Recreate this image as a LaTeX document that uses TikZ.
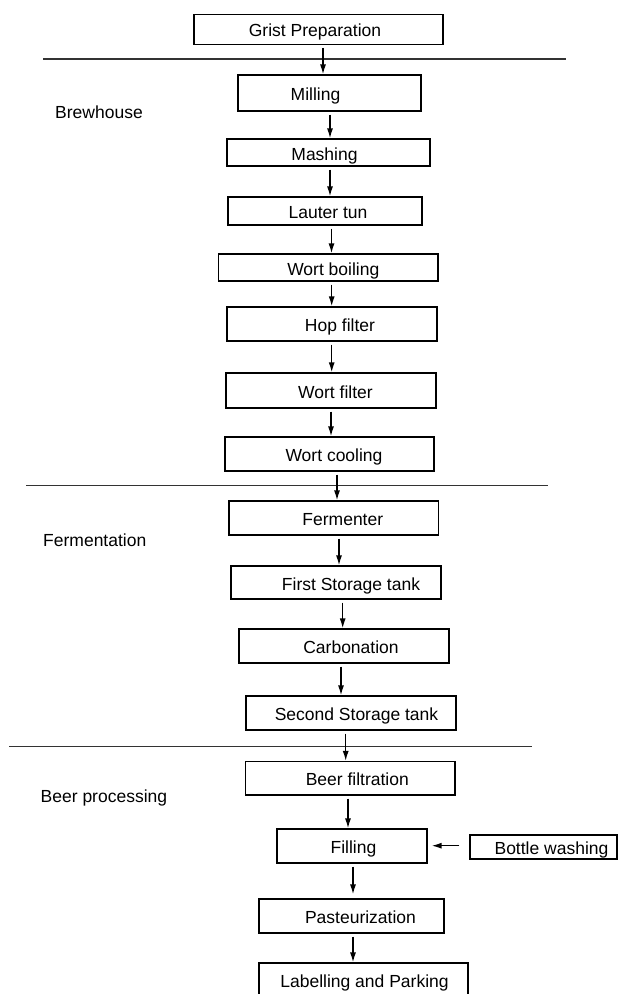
\documentclass[tikz,border=0pt]{standalone}
\usepackage{fontspec}
\setmainfont{Liberation Sans}
\usetikzlibrary{arrows.meta,calc}

\tikzset{
  stage/.style={draw, line width=1.2pt, inner sep=0pt, text height=15pt, text depth=0pt,
    font=\fontsize{17.5}{20}\selectfont},
  section/.style={anchor=base west, inner sep=0pt, font=\fontsize{17.5}{20}\selectfont},
  flow/.style={line width=1.4pt, shorten <=3pt, -{Latex[length=10pt,width=6pt]}},
  divider/.style={line width=1.1pt, black!80}
}

\begin{document}
\begin{tikzpicture}[x=1pt,y=-1pt]
	    \useasboundingbox (0,0) rectangle (618,994);
	    \clip (0,0) rectangle (618,994);
	    % process steps
	    \node[stage, minimum width=249pt, minimum height=30pt] (grist) at (318.5,29.3) {\hspace*{-7pt}Grist Preparation};
	    \node[stage, minimum width=183pt, minimum height=36pt] (mill) at (329.5,93) {\hspace*{-28pt}Milling};
	    \node[stage, minimum width=203pt, minimum height=27pt] (mash) at (328.5,152.5) {\hspace*{-8pt}Mashing};
	    \node[stage, minimum width=194pt, minimum height=28pt] (lauter) at (325,211) {\hspace*{6pt}Lauter tun};
	    \node[stage, minimum width=219.5pt, minimum height=27pt] (boil) at (328.3,267.5) {\hspace*{10pt}Wort boiling};
	    \node[stage, minimum width=210pt, minimum height=34pt] (hop) at (332,324) {\hspace*{16pt}Hop filter};
	    \node[stage, minimum width=210pt, minimum height=35pt] (wfilt) at (331,390.5) {\hspace*{9pt}Wort filter};
	    \node[stage, minimum width=209pt, minimum height=34pt] (cool) at (329.5,454) {\hspace*{9pt}Wort cooling};
	    \node[stage, minimum width=209.6pt, minimum height=34pt] (ferm) at (333.8,518) {\hspace*{18pt}Fermenter};
	    \node[stage, minimum width=210pt, minimum height=33pt] (store1) at (336,582.5) {\hspace*{30pt}First Storage tank};
	    \node[stage, minimum width=210pt, minimum height=34pt] (carb) at (344,646) {\hspace*{14pt}Carbonation};
	    \node[stage, minimum width=210pt, minimum height=34pt] (store2) at (351,713) {\hspace*{11pt}Second Storage tank};
	    \node[stage, minimum width=209.5pt, minimum height=33.5pt] (bfilt) at (350.3,778.3) {\hspace*{14pt}Beer filtration};
	    \node[stage, minimum width=150pt, minimum height=34pt] (fill) at (352,846) {\hspace*{3pt}Filling};
	    \node[stage, minimum width=147pt, minimum height=24pt] (wash) at (543.5,847) {\hspace*{16pt}Bottle washing};
	    \node[stage, minimum width=185pt, minimum height=34pt] (past) at (351.5,916) {\hspace*{18pt}Pasteurization};
	    \node[stage, minimum width=209pt, minimum height=34pt] (label) at (363.5,980) {\hspace*{2pt}Labelling and Parking};
	    % sections
	    \node[section] (brew) at (55,118.3) {Brewhouse};
	    \node[section] (fermsec) at (43,546) {Fermentation};
	    \node[section] (beersec) at (40.5,802.7) {Beer processing};
	    \draw[divider] (43,59) -- (566,59);
	    \draw[divider] (26,485.7) -- (548,485.7);
	    \draw[divider] (9.4,746.5) -- (532,746.5);
	    % connectors
	    \draw[flow] (grist.south -| 323,0) -- (mill.north -| 323,0);
	    \draw[flow] (mill.south -| 330,0) -- (mash.north -| 330,0);
	    \draw[flow] (mash.south -| 330,0) -- (lauter.north -| 330,0);
	    \draw[flow] (lauter.south -| 331.5,0) -- (boil.north -| 331.5,0);
	    \draw[flow] (boil.south -| 331.7,0) -- (hop.north -| 331.7,0);
	    \draw[flow] (hop.south -| 331.7,0) -- (wfilt.north -| 331.7,0);
	    \draw[flow] (wfilt.south -| 331,0) -- (cool.north -| 331,0);
	    \draw[flow] (cool.south -| 337,0) -- (ferm.north -| 337,0);
	    \draw[flow] (ferm.south -| 339,0) -- (store1.north -| 339,0);
	    \draw[flow] (store1.south -| 342.7,0) -- (carb.north -| 342.7,0);
	    \draw[flow] (carb.south -| 341,0) -- (store2.north -| 341,0);
	    \draw[flow] (store2.south -| 345.7,0) -- (bfilt.north -| 345.7,0);
	    \draw[flow] (bfilt.south -| 348,0) -- (fill.north -| 348,0);
	    \draw[flow, shorten >=4pt] (fill.south -| 353,0) -- (past.north -| 353,0);
	    \draw[flow] (past.south -| 353,0) -- (label.north -| 353,0);
	    \draw[flow, shorten <=10pt, shorten >=4pt] (wash.west |- 0,845.7) -- (fill.east |- 0,845.7);
	\end{tikzpicture}
\end{document}
